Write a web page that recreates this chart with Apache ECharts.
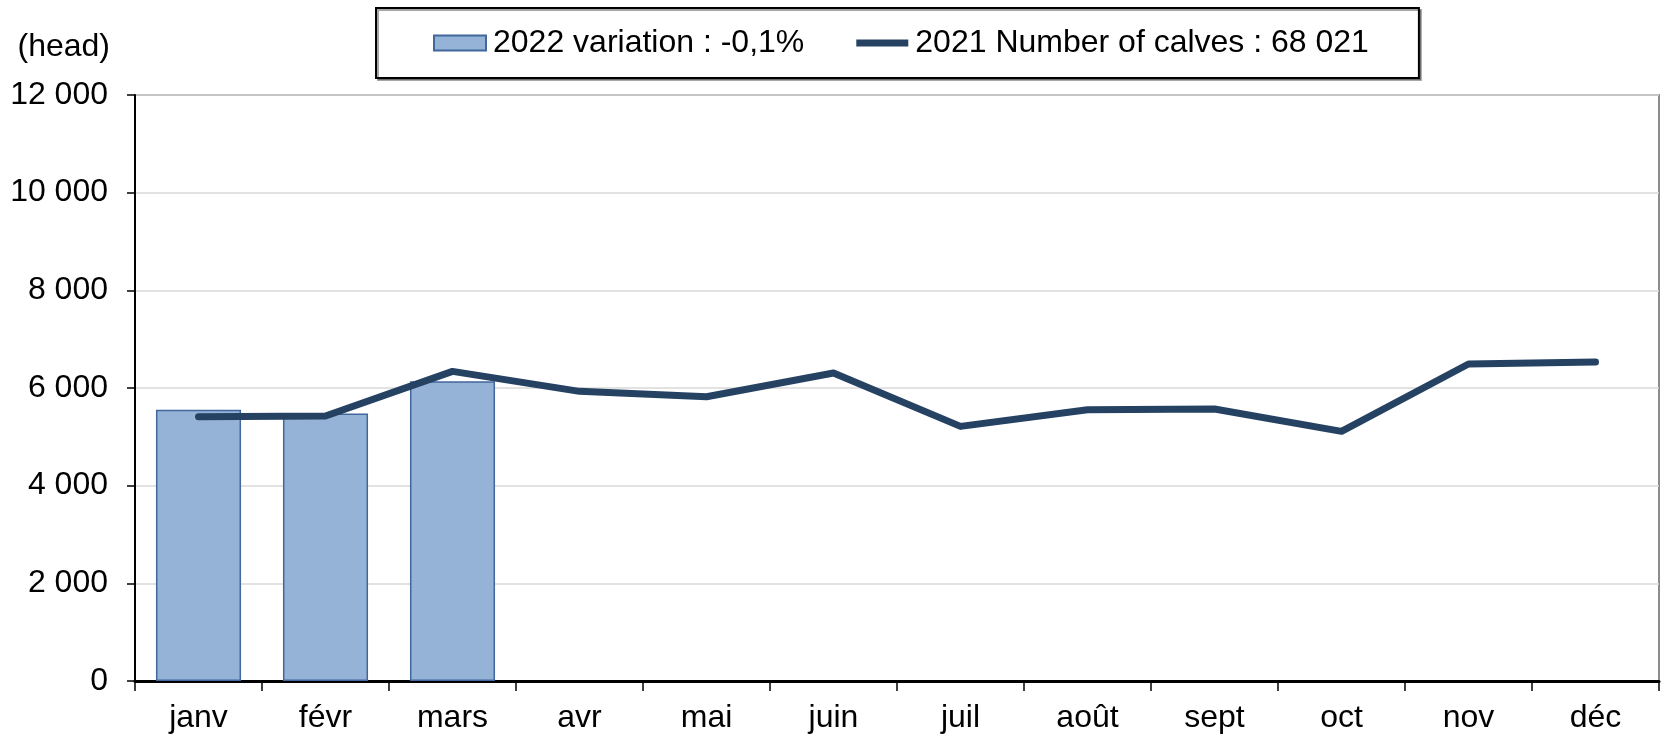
<!DOCTYPE html>
<html>
<head>
<meta charset="utf-8">
<script src="https://cdn.jsdelivr.net/npm/echarts@6/dist/echarts.min.js"></script>
<style>
  html, body { margin: 0; padding: 0; background: #fff; }
  #calves-chart { width: 1667px; height: 738px; }
</style>
</head>
<body>
<div id="calves-chart"></div>
<script>
// months (x axis)
const months = ['janv', 'févr', 'mars', 'avr', 'mai', 'juin', 'juil', 'août', 'sept', 'oct', 'nov', 'déc']
// 2022 monthly calves (bars, only first quarter known)
const calves2022 = [5556, 5480, 6136, null, null, null, null, null, null, null, null, null]
// 2021 monthly calves (line)
const calves2021 = [5413, 5427, 6340, 5931, 5822, 6307, 5214, 5556, 5570, 5112, 6492, 6533]
// y axis ticks
const yTicks = [0, 2000, 4000, 6000, 8000, 10000, 12000]

const barName = '2022 variation : -0,1%'
const lineName = '2021 Number of calves : 68 021'
const font = 'Liberation Sans, Arial, sans-serif'
const lineColor = '#264263'

const chart = echarts.init(document.getElementById('calves-chart'))

chart.setOption({
  animation: false,
  textStyle: { fontFamily: font, color: '#000' },
  legend: {
    left: 376,
    top: 8,
    padding: [19, 50, 19, 57],
    itemGap: 52,
    itemWidth: 52,
    itemHeight: 15,
    borderColor: '#000',
    borderWidth: 2,
    backgroundColor: '#fff',
    shadowColor: 'rgba(0,0,0,0.35)',
    shadowOffsetX: 2,
    shadowOffsetY: 2,
    textStyle: { fontSize: 32, fontFamily: font, color: '#000', padding: [0, 0, 0, 2] },
    data: [
      { name: barName, icon: 'rect' },
      { name: lineName, icon: 'path://M0,0 L52,0 L52,7 L0,7 Z', itemStyle: { color: lineColor } }
    ]
  },
  grid: {
    left: 135,
    right: 8,
    top: 95,
    bottom: 57,
    show: true,
    borderColor: '#8c8c8c',
    borderWidth: 2
  },
  xAxis: {
    type: 'category',
    data: months,
    boundaryGap: true,
    axisLine: { lineStyle: { color: '#000', width: 3 } },
    axisTick: { show: true, length: 10, lineStyle: { color: '#000', width: 1.5 } },
    axisLabel: { fontSize: 32, color: '#000', margin: 21, fontFamily: font }
  },
  yAxis: {
    type: 'value',
    min: yTicks[0],
    max: yTicks[yTicks.length - 1],
    interval: yTicks[1] - yTicks[0],
    name: '(head)',
    nameLocation: 'end',
    nameGap: 32,
    nameTextStyle: { fontSize: 32, color: '#000', align: 'right', padding: [0, 25, 0, 0], fontFamily: font },
    axisLine: { show: true, lineStyle: { color: '#000', width: 2 } },
    axisTick: { show: true, length: 8, lineStyle: { color: '#000', width: 1.5 } },
    axisLabel: {
      fontSize: 32,
      color: '#000',
      margin: 27,
      fontFamily: font,
      formatter: (v) => String(v).replace(/\B(?=(\d{3})+(?!\d))/g, ' ')
    },
    splitLine: { lineStyle: { color: '#d9d9d9', width: 1.5 } }
  },
  series: [
    {
      name: barName,
      type: 'bar',
      data: calves2022,
      barWidth: '67%',
      itemStyle: { color: '#95b3d7', borderColor: '#41679c', borderWidth: 1.5 }
    },
    {
      name: lineName,
      type: 'line',
      data: calves2021,
      symbol: 'none',
      z: 5,
      itemStyle: { color: lineColor },
      lineStyle: { color: lineColor, width: 7, cap: 'round', join: 'round' }
    }
  ]
})

window.addEventListener('resize', () => chart.resize())
</script>
</body>
</html>
